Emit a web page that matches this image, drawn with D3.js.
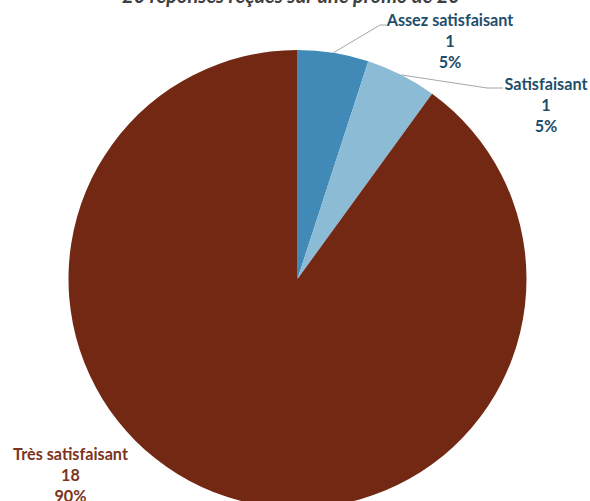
<!DOCTYPE html>
<html><head><meta charset="utf-8">
<script src="https://cdn.jsdelivr.net/npm/d3@7"></script>
<style>body{margin:0;background:#fff}svg{display:block}</style>
</head><body>
<svg id="c" width="590" height="501"></svg>
<script>
const title = "20 réponses reçues sur une promo de 20";
const categories = ["Assez satisfaisant", "Satisfaisant", "Très satisfaisant"];
const values = [1, 1, 18];
const percents = ["5%", "5%", "90%"];
const colors = ["#4189B6", "#8CBBD6", "#722812"];
const labelColors = ["#1F4E6B", "#1F4E6B", "#7B3420"];

const svg = d3.select("#c");
const cx = 297.5, cy = 279, R = 229;
const g = svg.append("g").attr("transform", `translate(${cx},${cy})`);
const pie = d3.pie().sort(null).value(d => d);
const arcs = pie(values);
const arc = d3.arc().innerRadius(0).outerRadius(R);

g.selectAll("path").data(arcs).enter().append("path")
  .attr("d", arc).attr("fill", (d, i) => colors[i]).attr("stroke", "none");

// label layout (relative to pie center): text center x, first baseline y, leader elbow
const layout = [
  {tx: 152.5, ty: -253, elbow: [82.5, -254], end: [89, -254], line: true},
  {tx: 248.5, ty: -189, elbow: [189.5, -191], end: [205.5, -191], line: true},
  {tx: -227, ty: 181, line: false}
];
const lh = 21;
arcs.forEach((a, i) => {
  const L = layout[i];
  const mid = (a.startAngle + a.endAngle) / 2;
  if (L.line) {
    const p0 = [Math.sin(mid) * R, -Math.cos(mid) * R];
    g.append("polyline")
      .attr("points", [p0, L.elbow, L.end].map(p => p.join(",")).join(" "))
      .attr("fill", "none").attr("stroke", "#A6A6A6").attr("stroke-width", 1);
  }
  const t = g.append("text").attr("text-anchor", "middle")
    .attr("font-family", "Lato, 'Open Sans', sans-serif").attr("font-weight", "bold")
    .attr("font-size", 16.2).attr("fill", labelColors[i]);
  [categories[i], String(values[i]), percents[i]].forEach((s, k) => {
    t.append("tspan").attr("x", L.tx).attr("y", L.ty + k * lh).text(s);
  });
});

svg.append("text").attr("x", 291).attr("y", 3).attr("text-anchor", "middle")
  .attr("font-family", "Lato, 'Open Sans', sans-serif").attr("font-weight", "bold")
  .attr("font-style", "italic").attr("font-size", 20).attr("fill", "#404040")
  .text(title);
</script>
</body></html>
